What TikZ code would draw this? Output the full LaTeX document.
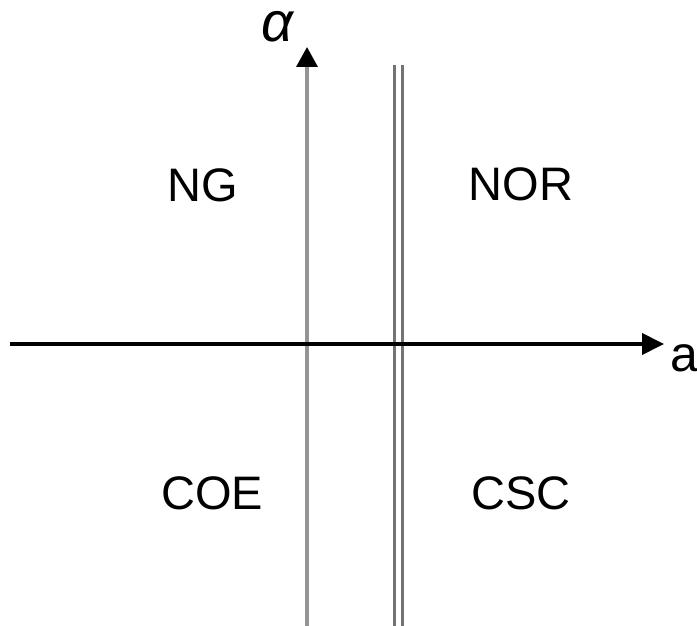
\documentclass[tikz,border=0pt]{standalone}
\usepackage{fontspec}
\setmainfont{Liberation Sans}
\usepackage{tikz}
\usetikzlibrary{arrows.meta}

\begin{document}
\begin{tikzpicture}[
    x=0.5pt, y=-0.5pt,
    zone/.style={font=\fontsize{23.5pt}{28pt}\selectfont, inner sep=0pt},
    axislbl/.style={font=\fontsize{25pt}{30pt}\selectfont, inner sep=0pt},
    haxis/.style={line width=2pt, -{Triangle[length=11pt,width=10.5pt]}},
    vaxis/.style={line width=1.7pt, draw=black!42, -{Triangle[length=10pt,width=10.5pt,color=black]}},
    wall/.style={line width=1.5pt, draw=black!55}
]
\useasboundingbox (0,0) rectangle (697,626);
% axis ends
\coordinate (xstart) at (10,344);
\coordinate (xend) at (664,344);
\coordinate (ystart) at (307,626);
\coordinate (yend) at (307,47);
\coordinate (w1top) at (394,65);
\coordinate (w1bot) at (394,626);
\coordinate (w2top) at (402,65);
\coordinate (w2bot) at (402,626);
% labels
\node[axislbl] (alab) at (684,358) {a};
\node[axislbl, font=\fontsize{28pt}{32pt}\selectfont\itshape] (alpha) at (277,27) {α};
\node[zone] (ng) at (203,185) {NG};
\node[zone] (nor) at (521,184) {NOR};
\node[zone] (coe) at (212,493) {COE};
\node[zone] (csc) at (521,493) {CSC};
% lines
\draw[wall] (w1bot) -- (w1top);
\draw[wall] (w2bot) -- (w2top);
\draw[vaxis] (ystart) -- (yend);
\draw[haxis] (xstart) -- (xend);
\end{tikzpicture}
\end{document}
